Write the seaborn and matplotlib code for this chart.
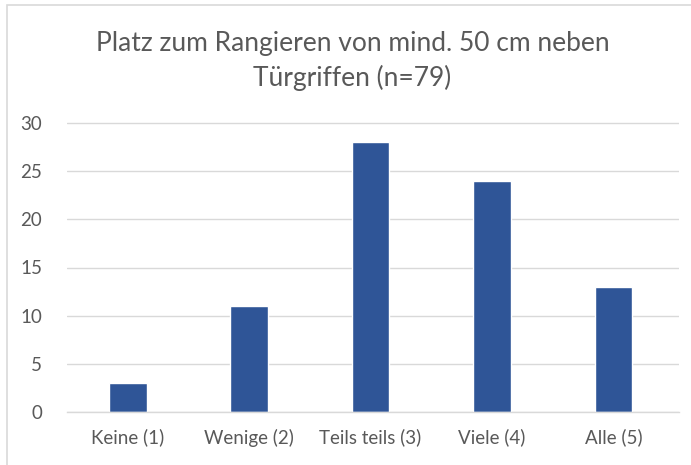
import matplotlib
matplotlib.use('Agg')
import matplotlib.pyplot as plt
import seaborn as sns
import pandas as pd
from matplotlib.patches import Rectangle

# Daten
kategorien = ['Keine (1)', 'Wenige (2)', 'Teils teils (3)', 'Viele (4)', 'Alle (5)']
anzahl = [3, 11, 28, 24, 13]
df = pd.DataFrame({'Kategorie': kategorien, 'Anzahl': anzahl})

sns.set_style('white')
plt.rcParams['font.family'] = ['Lato', 'DejaVu Sans']

fig = plt.figure(figsize=(6.91, 4.65), dpi=100)
ax = fig.add_axes([67 / 691, 1 - 412 / 465, 612 / 691, (412 - 112) / 465])

sns.barplot(data=df, x='Kategorie', y='Anzahl', color='#2F5597', width=0.31,
            saturation=1, ax=ax, zorder=3)

ax.set_ylim(0, 30 * (412 - 112) / (412 - 123))
ax.set_yticks(range(0, 31, 5))
ax.yaxis.grid(True, color='#D9D9D9', linewidth=1, zorder=0)
ax.set_xlim(-0.5, 4.54)
for s in ['top', 'right', 'left']:
    ax.spines[s].set_visible(False)
ax.spines['bottom'].set_color('#D9D9D9')
ax.spines['bottom'].set_linewidth(1)
ax.spines['bottom'].set_zorder(4)
ax.tick_params(axis='both', length=0, labelsize=13.5, colors='#595959')
ax.tick_params(axis='x', pad=12)
ax.tick_params(axis='y', pad=18)
ax.set_xlabel('')
ax.set_ylabel('')

fig.text(0.51, 1 - 61 / 465, 'Platz zum Rangieren von mind. 50 cm neben\nTürgriffen (n=79)',
         ha='center', va='center', fontsize=19, color='#595959', linespacing=1.45)

# Rahmen des Diagrammbereichs
fig.patches.append(Rectangle((7 / 691, -0.05), 1.0, 1 - 5 / 465 + 0.05,
                             transform=fig.transFigure, fill=False,
                             edgecolor='#D9D9D9', linewidth=1.2))

fig.savefig('out.png', dpi=100)
